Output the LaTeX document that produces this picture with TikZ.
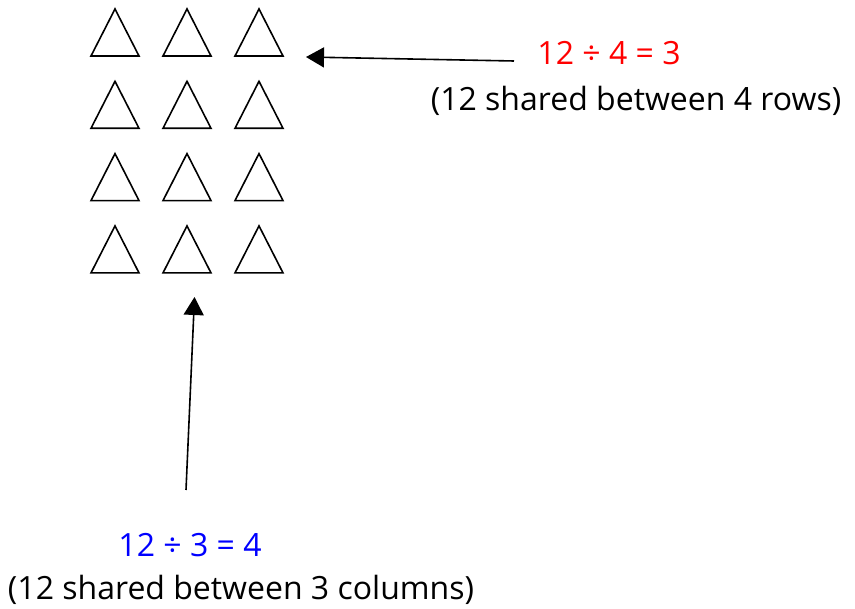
\documentclass[tikz,border=0pt]{standalone}
\usepackage{fontspec}
\setmainfont{Open Sans}
\usetikzlibrary{arrows.meta}
\tikzset{
  tri/.style={draw=black, line width=1.6pt, line join=miter},
  arr/.style={draw=black, line width=1.6pt, -{Triangle[length=18pt,width=20pt]}},
  lbl/.style={inner sep=0pt, font=\fontsize{32}{38}\selectfont},
}
\begin{document}
\begin{tikzpicture}[x=1pt,y=-1pt]
\useasboundingbox (0,0) rectangle (855,609);
\foreach \c in {0,1,2}{
  \foreach \r in {0,1,2,3}{
    \draw[tri] ({91+72*\c},{56+72.3*\r}) -- ({115+72*\c},{9+72.3*\r}) -- ({139+72*\c},{56+72.3*\r}) -- cycle;
  }
}
\node[lbl, text=red, anchor=base] (rowsEq) at (609,65) {12 ÷ 4 = 3};
\node[lbl, anchor=base] (rowsTxt) at (636,111) {(12 shared between 4 rows)};
\node[lbl, text=blue, anchor=base] (colsEq) at (190,557) {12 ÷ 3 = 4};
\node[lbl, anchor=base] (colsTxt) at (241,600) {(12 shared between 3 columns)};
\coordinate (rowTail) at (514,61);
\coordinate (rowTip) at (306,57);
\coordinate (colTail) at (186,490);
\coordinate (colTip) at (194.5,297);
\draw[arr] (rowTail) -- (rowTip);
\draw[arr] (colTail) -- (colTip);
\end{tikzpicture}
\end{document}
